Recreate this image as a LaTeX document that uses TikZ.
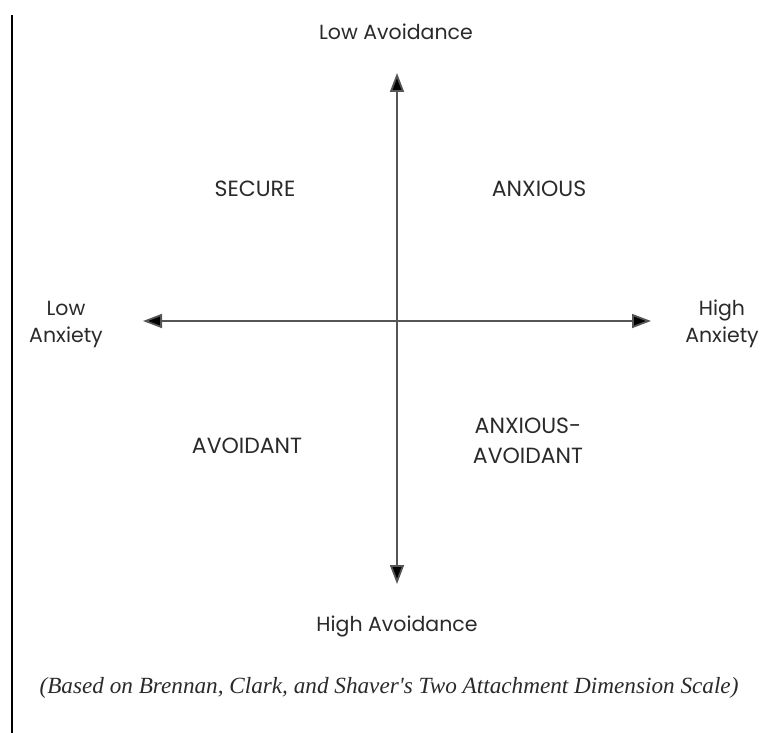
\documentclass[tikz,border=0pt]{standalone}
\usepackage{fontspec}
\setmainfont{Poppins}
\newfontfamily\capfont{Liberation Serif}
\usetikzlibrary{arrows.meta}
\definecolor{ink}{HTML}{2A2A2A}
\definecolor{axis}{HTML}{555555}
\tikzset{
  lbl/.style={text=ink, font=\fontsize{20.5}{27}\selectfont, align=center, inner sep=0pt},
  quad/.style={text=ink, font=\fontsize{22}{30}\selectfont, align=center, inner sep=0pt},
  axisline/.style={draw=axis, line width=1.8pt, {Triangle[length=19pt,width=14pt,fill=black]}-{Triangle[length=19pt,width=14pt,fill=black]}},
}
\begin{document}
\begin{tikzpicture}[x=1pt,y=-1pt]
\useasboundingbox (0,0) rectangle (771,733);
\draw[line width=1.2pt, black] (12,15) -- (12,733);
\coordinate (top) at (397,73);
\coordinate (bot) at (397,584);
\coordinate (lft) at (143,321);
\coordinate (rgt) at (651,321);
\draw[axisline] (bot) -- (top);
\draw[axisline] (lft) -- (rgt);
\node[lbl] (lowav) at (396,32) {Low Avoidance};
\node[lbl] (highav) at (397,626) {High Avoidance};
\node[lbl] (lowanx) at (66,324) {Low\\Anxiety};
\node[lbl] (highanx) at (722,324) {High\\Anxiety};
\node[quad] (secure) at (255,189) {SECURE};
\node[quad] (anxious) at (539,189) {ANXIOUS};
\node[quad] (avoidant) at (247,446) {AVOIDANT};
\node[quad] (anxav) at (528,441) {ANXIOUS-\\AVOIDANT};
\node[text=ink, inner sep=0pt, font=\capfont\itshape\fontsize{23.2}{26}\selectfont] (cap) at (389,688) {(Based on Brennan, Clark, and Shaver's Two Attachment Dimension Scale)};
\end{tikzpicture}
\end{document}
